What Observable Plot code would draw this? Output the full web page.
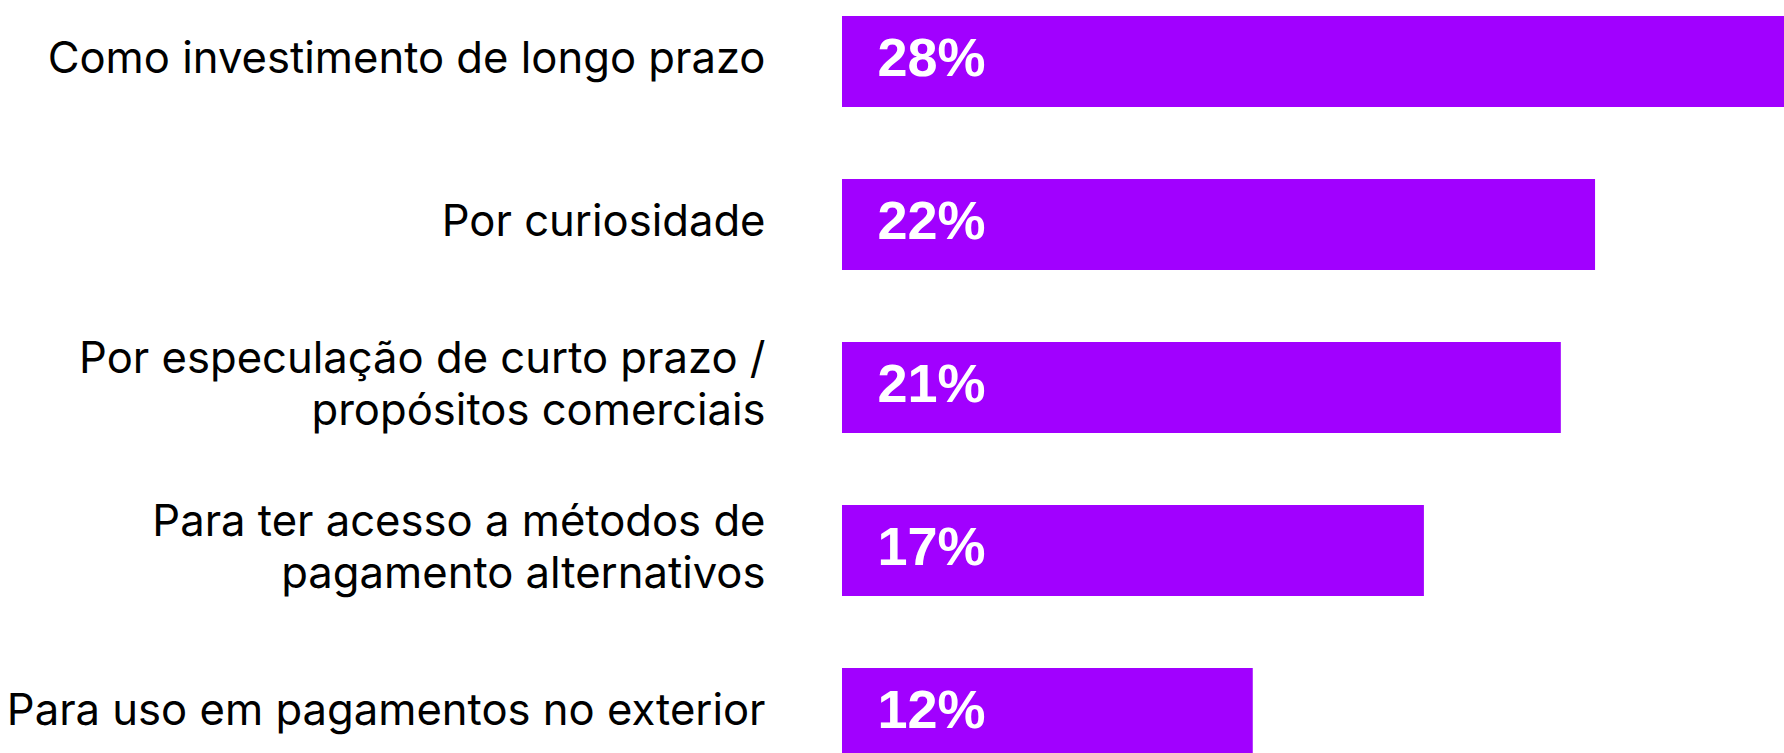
<!DOCTYPE html>
<html>
<head>
<meta charset="utf-8">
<script src="https://cdn.jsdelivr.net/npm/d3@7"></script>
<script src="https://cdn.jsdelivr.net/npm/@observablehq/plot@0.6"></script>
<style>
  html, body { margin: 0; padding: 0; background: #fff; }
  #chart { width: 1784px; height: 753px; overflow: hidden; }
</style>
</head>
<body>
<div id="chart"></div>
<script>
const categories = [
  "Como investimento de longo prazo",
  "Por curiosidade",
  "Por especulação de curto prazo /\npropósitos comerciais",
  "Para ter acesso a métodos de\npagamento alternativos",
  "Para uso em pagamentos no exterior"
];
const values = [28, 22, 21, 17, 12];
const valueLabels = ["28%", "22%", "21%", "17%", "12%"];

const data = categories.map((c, i) => ({category: c, value: values[i], label: valueLabels[i]}));

const chart = Plot.plot({
  width: 1784,
  height: 753,
  marginLeft: 842,
  marginRight: 0,
  marginTop: 15,
  marginBottom: 0,
  x: {domain: [0, 27.52], axis: null},
  y: {domain: categories, range: [15, 760], paddingInner: 0.443, paddingOuter: 0, axis: null},
  style: {background: "#fff", overflow: "hidden"},
  marks: [
    Plot.barX(data, {x: "value", y: "category", fill: "#A100FF", clip: true}),
    Plot.text(data, {
      x: 0, y: "category", text: "category", textAnchor: "end", dx: -77, dy: -6,
      fontSize: 43.6, lineHeight: 1.21, fill: "#000", fontFamily: "Inter, sans-serif"
    }),
    Plot.text(data, {
      x: 0, y: "category", text: "label", textAnchor: "start", dx: 35, dy: -3,
      fontSize: 54, fontWeight: "bold", fill: "#fff", fontFamily: "'Liberation Sans', Arial, sans-serif"
    })
  ]
});
document.getElementById("chart").appendChild(chart);
</script>
</body>
</html>
